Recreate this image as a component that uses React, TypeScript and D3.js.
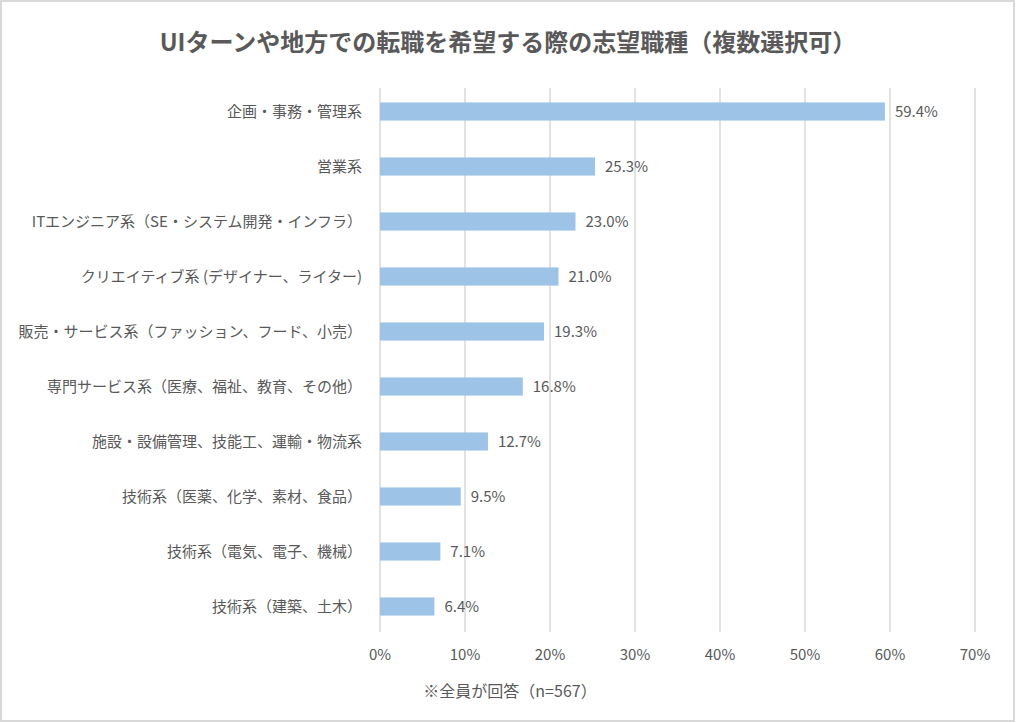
import React from "react";
import * as d3 from "d3";

const categories = [
  "企画・事務・管理系",
  "営業系",
  "ITエンジニア系（SE・システム開発・インフラ）",
  "クリエイティブ系 (デザイナー、ライター)",
  "販売・サービス系（ファッション、フード、小売）",
  "専門サービス系（医療、福祉、教育、その他）",
  "施設・設備管理、技能工、運輸・物流系",
  "技術系（医薬、化学、素材、食品）",
  "技術系（電気、電子、機械）",
  "技術系（建築、土木）",
];
const values = [59.4, 25.3, 23.0, 21.0, 19.3, 16.8, 12.7, 9.5, 7.1, 6.4];
const xTicks = [0, 10, 20, 30, 40, 50, 60, 70];
const title = "UIターンや地方での転職を希望する際の志望職種（複数選択可）";
const footnote = "※全員が回答（n=567）";

const W = 1016;
const H = 723;
const FONT = "'Noto Sans CJK JP', 'Noto Sans', sans-serif";
const TEXT = "#595959";

export default function App() {
  const x = d3.scaleLinear().domain([0, 70]).range([380, 975]);
  const y = d3.scaleBand<string>().domain(categories).range([84, 634]).paddingInner(0.67).paddingOuter(0.335);

  return (
    <div>
      <style>{"body{margin:0}"}</style>
      <svg width={W} height={H} style={{ display: "block" }} fontFamily={FONT}>
        <rect x={0} y={0} width={W} height={H} fill="#fff" />
        <rect x={1} y={1} width={W - 3} height={H - 3} fill="none" stroke="#d9d9d9" strokeWidth={2} />
        <text x={508} y={51} textAnchor="middle" fontSize={24} fontWeight="bold" fill={TEXT}>
          {title}
        </text>
        {xTicks.map((t) => (
          <line key={"g" + t} x1={x(t)} x2={x(t)} y1={88} y2={632} stroke="#d9d9d9" strokeWidth={1.5} />
        ))}
        {categories.map((c, i) => {
          const yy = y(c)!;
          const bw = y.bandwidth();
          return (
            <g key={c}>
              <rect x={x(0)} y={yy} width={x(values[i]) - x(0)} height={bw} fill="#9DC3E6" />
              <text x={x(values[i]) + 10} y={yy + bw / 2} dy="0.35em" fontSize={15} fill={TEXT}>
                {values[i].toFixed(1) + "%"}
              </text>
              <text x={362} y={yy + bw / 2} dy="0.35em" textAnchor="end" fontSize={15} fill={TEXT}>
                {c}
              </text>
            </g>
          );
        })}
        {xTicks.map((t) => (
          <text key={"t" + t} x={x(t)} y={655} dy="0.35em" textAnchor="middle" fontSize={15} fill={TEXT}>
            {t + "%"}
          </text>
        ))}
        <text x={510} y={691} dy="0.35em" textAnchor="middle" fontSize={16} fill={TEXT}>
          {footnote}
        </text>
      </svg>
    </div>
  );
}
